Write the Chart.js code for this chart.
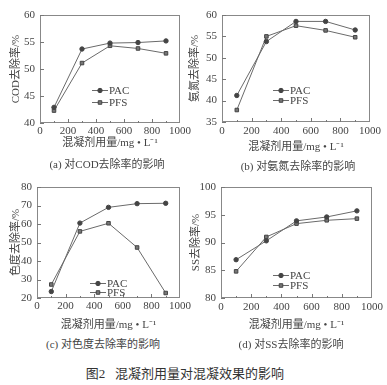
<!DOCTYPE html>
<html>
<head>
<meta charset="utf-8">
<script src="https://cdn.jsdelivr.net/npm/chart.js@4/dist/chart.umd.min.js"></script>
<style>
    body { margin: 0; background: #fff; width: 387px; height: 385px; position: relative; overflow: hidden;
           font-family: "Liberation Serif", "Noto Sans CJK SC", serif; color: #444; }
    canvas { position: absolute; }
    .cap { position: absolute; font-size: 11px; white-space: nowrap; transform: translate(-50%, -50%); }
    .fig { position: absolute; font-size: 13px; white-space: nowrap; transform: translate(-50%, -50%); color: #333; }
</style>
</head>
<body>
<canvas id="chartA" width="193" height="150" style="left:0;top:0"></canvas>
<canvas id="chartB" width="199" height="154" style="left:188px;top:0"></canvas>
<canvas id="chartC" width="193" height="162" style="left:0;top:170px"></canvas>
<canvas id="chartD" width="199" height="162" style="left:188px;top:170px"></canvas>

<div class="cap" style="left:107px;top:163px">(a) 对COD去除率的影响</div>
<div class="cap" style="left:298px;top:165px">(b) 对氨氮去除率的影响</div>
<div class="cap" style="left:103px;top:343px">(c) 对色度去除率的影响</div>
<div class="cap" style="left:291px;top:343px">(d) 对SS去除率的影响</div>
<div class="fig" style="left:185px;top:372px">图2&nbsp;&nbsp;&nbsp;混凝剂用量对混凝效果的影响</div>

<script>
// Datos
const dosis = [100, 300, 500, 700, 900];
const xTicks = [0, 200, 400, 600, 800, 1000];
const seriesNames = ['PAC', 'PFS'];
const xTitle = '混凝剂用量/mg • L⁻¹';

const codPAC = [42.9, 53.7, 54.8, 54.9, 55.2];
const codPFS = [42.3, 51.1, 54.3, 53.8, 52.9];

const nh3PAC = [41.2, 53.8, 58.5, 58.5, 56.5];
const nh3PFS = [37.8, 55.0, 57.5, 56.4, 54.8];

const colorPAC = [23.5, 60.5, 69.0, 71.0, 71.2];
const colorPFS = [27.3, 56.0, 60.4, 47.3, 22.7];

const ssPAC = [86.9, 90.3, 93.9, 94.6, 95.7];
const ssPFS = [84.8, 91.0, 93.4, 94.0, 94.3];

const FONT = '"Liberation Serif", "Noto Sans CJK SC", serif';
const TEXT = '#444';
const LINE = '#6a6a6a';

// Marco, marcas interiores y leyenda
const framePlugin = {
    id: 'frame',
    afterDraw(chart) {
        const { ctx, chartArea: a, scales } = chart;
        const o = chart.options.plugins.frame;
        ctx.save();
        ctx.strokeStyle = '#888';
        ctx.lineWidth = 1;
        ctx.strokeRect(a.left + 0.5, a.top + 0.5, a.right - a.left - 1, a.bottom - a.top - 1);

        // marcas del eje x cada 100
        ctx.strokeStyle = '#777';
        ctx.beginPath();
        for (let v = 100; v < 1000; v += 100) {
            const px = Math.round(scales.x.getPixelForValue(v)) + 0.5;
            const len = v % 200 === 0 ? 4 : 2;
            ctx.moveTo(px, a.bottom);
            ctx.lineTo(px, a.bottom - len);
        }
        scales.y.ticks.forEach(t => {
            const py = Math.round(scales.y.getPixelForValue(t.value)) + 0.5;
            ctx.moveTo(a.left, py);
            ctx.lineTo(a.left + 4, py);
        });
        ctx.stroke();

        // leyenda
        chart.data.datasets.forEach((ds, i) => {
            const x = a.left + o.legendX;
            const y = a.top + o.legendY[i];
            ctx.strokeStyle = LINE;
            ctx.beginPath();
            ctx.moveTo(x, y + 0.5);
            ctx.lineTo(x + 16, y + 0.5);
            ctx.stroke();
            ctx.fillStyle = ds.pointBackgroundColor;
            ctx.strokeStyle = ds.pointBorderColor;
            Chart.helpers.drawPoint(ctx, {
                pointStyle: ds.pointStyle, radius: ds.pointRadius, rotation: 0,
                borderWidth: 1
            }, x + 8, y + 0.5);
            ctx.fillStyle = TEXT;
            ctx.font = '11px ' + FONT;
            ctx.textBaseline = 'middle';
            ctx.textAlign = 'left';
            ctx.fillText(seriesNames[i], x + 17, y + 1);
        });
        ctx.restore();
    }
};

function makeDataset(label, values, style) {
    return {
        label: label,
        data: values,
        borderColor: LINE,
        borderWidth: 1,
        backgroundColor: style === 'rect' ? '#777' : '#444',
        pointBackgroundColor: style === 'rect' ? '#777' : '#444',
        pointBorderColor: '#444',
        pointBorderWidth: 1,
        pointStyle: style,
        pointRadius: style === 'rect' ? 2.5 : 2.2,
        tension: 0
    };
}

function createPanel(canvasId, yTitle, pac, pfs, yMin, yMax, yStep, opt) {
    const ctx = document.getElementById(canvasId).getContext('2d');
    return new Chart(ctx, {
        type: 'line',
        data: {
            labels: dosis,
            datasets: [makeDataset('PAC', pac, 'circle'), makeDataset('PFS', pfs, 'rect')]
        },
        options: {
            responsive: false,
            animation: false,
            layout: { padding: { top: opt.top, right: opt.right, left: 0, bottom: 0 } },
            plugins: {
                legend: { display: false },
                tooltip: { enabled: false },
                frame: { legendX: opt.legendX, legendY: opt.legendY }
            },
            scales: {
                x: {
                    type: 'linear',
                    min: 0, max: 1000,
                    afterBuildTicks: s => { s.ticks = xTicks.map(v => ({ value: v })); },
                    grid: { display: false, drawTicks: false },
                    border: { display: false },
                    ticks: {
                        color: TEXT, font: { family: FONT, size: 11 }, padding: opt.xPad,
                        maxRotation: 0, autoSkip: false,
                        callback: v => String(v)
                    },
                    title: { display: true, text: xTitle, color: TEXT, font: { family: FONT, size: 11 }, padding: 0 },
                    afterFit: s => { s.height = opt.xHeight; }
                },
                y: {
                    min: yMin, max: yMax,
                    grid: { display: false, drawTicks: false },
                    border: { display: false },
                    ticks: { stepSize: yStep, color: TEXT, font: { family: FONT, size: 11 }, padding: 5 },
                    title: { display: true, text: yTitle, color: TEXT, font: { family: FONT, size: 11 }, padding: { top: opt.yTitlePad, bottom: 0 } },
                    afterFit: s => { s.width = opt.yWidth; }
                }
            }
        },
        plugins: [framePlugin]
    });
}

window.addEventListener('load', () => {
    createPanel('chartA', 'COD去除率/%', codPAC, codPFS, 40, 60, 5,
        { top: 15, right: 10, yWidth: 40, xHeight: 27, yTitlePad: 10, xPad: 2, legendX: 52, legendY: [75, 87] });
    createPanel('chartB', '氨氮去除率/%', nh3PAC, nh3PFS, 35, 60, 5,
        { top: 15, right: 17, yWidth: 34, xHeight: 32, yTitlePad: 1, xPad: 3, legendX: 51, legendY: [75, 85] });
    createPanel('chartC', '色度去除率/%', colorPAC, colorPFS, 20, 80, 10,
        { top: 17, right: 10, yWidth: 37, xHeight: 34, yTitlePad: 10, xPad: 2, legendX: 53, legendY: [96, 105] });
    createPanel('chartD', 'SS去除率/%', ssPAC, ssPFS, 80, 100, 5,
        { top: 17, right: 15, yWidth: 33, xHeight: 34, yTitlePad: 2, xPad: 3, legendX: 52, legendY: [88, 98] });
});
</script>
</body>
</html>
